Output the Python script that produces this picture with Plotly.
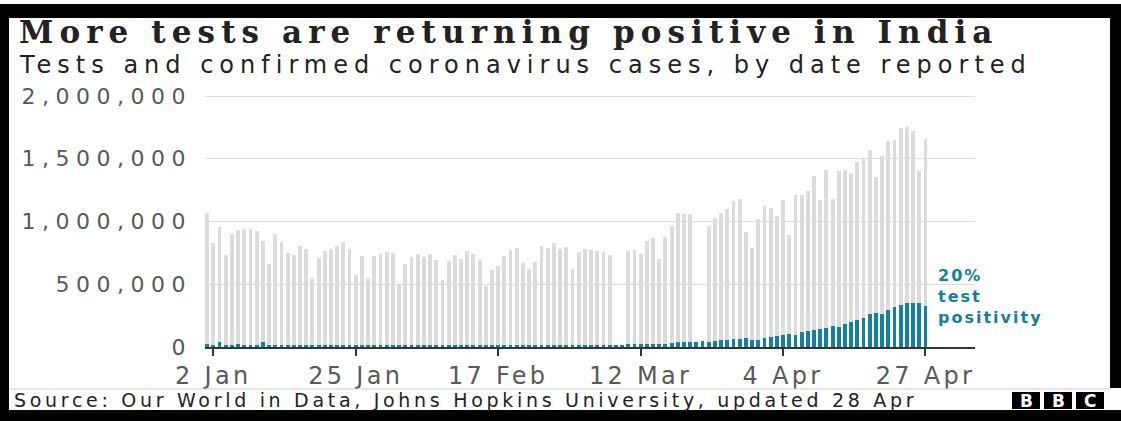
import pandas as pd
import plotly.graph_objects as go

# ---------------- data ----------------
dates = pd.date_range("2021-01-01", "2021-04-27", freq="D")

tests_jan = [1066, 831, 960, 736, 897, 931, 937, 937, 921, 844, 659, 902, 839, 746, 730, 804,
             781, 550, 712, 765, 781, 802, 839, 781, 572, 725, 553, 725, 744, 757, 749]
tests_feb = [503, 659, 720, 744, 714, 741, 696, 532, 685, 736, 701, 765, 744, 696, 484, 617,
             643, 722, 770, 788, 672, 624, 680, 807, 791, 831, 778, 796]
tests_mar = [624, 757, 781, 775, 765, 754, 736, None, None, 762, 775, 741, 841, 865, 704, 876,
             968, 1066, 1058, 1058, None, None, 966, 1027, 1066, 1103, 1164, 1180, 913, 788, 1021]
tests_apr = [1125, 1111, 1045, 1170, 894, 1212, 1209, 1241, 1365, 1175, 1410, 1183, 1402, 1410,
             1386, 1471, 1503, 1569, 1357, 1519, 1640, 1648, 1744, 1754, 1723, 1402, 1659]

cases_jan = [20, 19, 38, 16.5, 18, 20, 18, 18, 18.6, 38, 12.6, 16, 17, 15.6, 15.2, 15.1, 13.8, 10,
             13.8, 15.2, 14.5, 14.3, 14.8, 13.2, 9.1, 12.7, 11.7, 18.9, 18.9, 13, 13]
cases_feb = [8.6, 11, 12.9, 12.4, 11.7, 11.7, 11.8, 9.1, 9.1, 11, 12.9, 9.3, 12.2, 11.8, 9.1, 11.6,
             12.9, 12.2, 13.2, 13.9, 14.3, 10.6, 13.7, 16.7, 16.6, 16.6, 16.8, 16.7]
cases_mar = [12.3, 15.5, 14.9, 17.4, 16.8, 18.3, 18.7, 15.4, 17.9, 22.9, 22.8, 23.3, 24.9, 25.3,
             26.3, 24.5, 28.9, 35.9, 39.7, 40.9, 43.8, 46.9, 40.7, 47.3, 53.5, 59.1, 62.3, 62.7,
             68.0, 56.2, 53.5]
cases_apr = [72.3, 81.5, 89.1, 93.2, 103.6, 97.0, 115.7, 126.8, 132.0, 145.4, 152.9, 168.9, 161.7,
             184.4, 200.7, 217.4, 234.7, 261.5, 273.8, 259.2, 295.0, 314.8, 332.7, 346.8, 349.7,
             353.0, 323.1]

tests = [None if v is None else v * 1000 for v in tests_jan + tests_feb + tests_mar + tests_apr]
cases = [v * 1000 for v in cases_jan + cases_feb + cases_mar + cases_apr]

x_tick_dates = ["2021-01-02", "2021-01-25", "2021-02-17", "2021-03-12", "2021-04-04", "2021-04-27"]
x_tick_labels = ["2 Jan", "25 Jan", "17 Feb", "12 Mar", "4 Apr", "27 Apr"]
y_tick_vals = [0, 500000, 1000000, 1500000, 2000000]
y_tick_labels = ["0", "500,000", "1,000,000", "1,500,000", "2,000,000"]

title = "More tests are returning positive in India"
subtitle = "Tests and confirmed coronavirus cases, by date reported"
source = "Source: Our World in Data, Johns Hopkins University, updated 28 Apr"
label_lines = ["20%", "test", "positivity"]

# ---------------- layout geometry ----------------
FW, FH = 1121, 421
L, R, T, B = 205, 146, 93, 74
PW, PH = FW - L - R, FH - T - B
Y_MAX = 2000000 * PH / 251.0
DAY_PX = 6.193
x0 = pd.Timestamp("2021-01-01") - pd.Timedelta(days=0.34)
x1 = x0 + pd.Timedelta(days=PW / DAY_PX)


def px(xp):
    return (xp - L) / PW


def py(yp):
    return (FH - B - yp) / PH


def spaced(text, sp):
    return "<span style='letter-spacing:%spx'>%s</span>" % (sp, text)


GREY = "#dcdcdc"
TEAL = "#1380a1"
INK = "#222222"
AXIS_TXT = "#595959"
BAR_W = 0.62 * 86400000

fig = go.Figure()
fig.add_trace(go.Bar(x=dates, y=tests, marker=dict(color=GREY, line=dict(width=0)),
                     width=BAR_W, name="Tests"))
fig.add_trace(go.Bar(x=dates, y=cases, marker=dict(color=TEAL, line=dict(width=0)),
                     width=BAR_W, name="Cases"))

shapes = []
# black frame
for (a, b, c, d) in [(0, 4, FW, 18), (0, 4, 9, FH), (1110, 4, FW, 388), (0, 410, FW, FH)]:
    shapes.append(dict(type="rect", xref="paper", yref="paper", x0=px(a), x1=px(c),
                       y0=py(d), y1=py(b), fillcolor="black", line=dict(width=0), layer="above"))
# footer rule
shapes.append(dict(type="line", xref="paper", yref="paper", x0=px(9), x1=px(1110),
                   y0=py(389), y1=py(389), line=dict(color="#cfcfcf", width=1)))
# BBC blocks
BBC_X = [1012, 1044, 1076]
for xs in BBC_X:
    shapes.append(dict(type="rect", xref="paper", yref="paper", x0=px(xs), x1=px(xs + 28),
                       y0=py(409), y1=py(392), fillcolor="black", line=dict(width=0), layer="above"))

annotations = [
    dict(text="<b>" + spaced(title, 6.1) + "</b>", x=px(17), y=py(31.5), xref="paper", yref="paper",
         xanchor="left", yanchor="middle", showarrow=False,
         font=dict(family="DejaVu Serif", size=31, color=INK)),
    dict(text=spaced(subtitle, 6.0), x=px(17), y=py(64.5), xref="paper", yref="paper",
         xanchor="left", yanchor="middle", showarrow=False,
         font=dict(family="DejaVu Sans", size=24, color=INK)),
    dict(text=spaced(source, 3.7), x=px(12), y=py(400), xref="paper", yref="paper",
         xanchor="left", yanchor="middle", showarrow=False,
         font=dict(family="DejaVu Sans", size=19, color=INK)),
    dict(text="<br>".join("<b>" + spaced(t, 2) + "</b>" for t in label_lines),
         x=px(936), y=py(296), xref="paper", yref="paper", xanchor="left", yanchor="middle",
         align="left", showarrow=False,
         font=dict(family="DejaVu Sans", size=16, color=TEAL)),
]
for xs, letter in zip(BBC_X, ["B", "B", "C"]):
    annotations.append(dict(text="<b>" + letter + "</b>", x=px(xs + 14), y=py(401),
                            xref="paper", yref="paper", xanchor="center", yanchor="middle",
                            showarrow=False,
                            font=dict(family="DejaVu Sans", size=17, color="white")))

fig.update_layout(
    width=FW, height=FH,
    margin=dict(l=L, r=R, t=T, b=B, pad=0),
    paper_bgcolor="white", plot_bgcolor="white",
    barmode="overlay", bargap=0,
    showlegend=False,
    shapes=shapes, annotations=annotations,
    xaxis=dict(type="date", range=[x0, x1], tickvals=x_tick_dates,
               ticktext=[spaced(t, 3.3) for t in x_tick_labels],
               showgrid=False, showline=True, linecolor="#333333", linewidth=2,
               ticks="outside", ticklen=7, tickwidth=2, tickcolor="#333333",
               ticklabelstandoff=-1,
               tickfont=dict(family="DejaVu Sans", size=24, color=AXIS_TXT),
               zeroline=False),
    yaxis=dict(range=[0, Y_MAX], tickvals=y_tick_vals,
               ticktext=[spaced(t, 6.5) for t in y_tick_labels],
               showgrid=True, gridcolor="#dddddd", gridwidth=1, zeroline=False,
               showline=False, ticks="", ticklabelstandoff=12,
               tickfont=dict(family="DejaVu Sans", size=22, color=AXIS_TXT)),
)

fig.write_html("out.html")
